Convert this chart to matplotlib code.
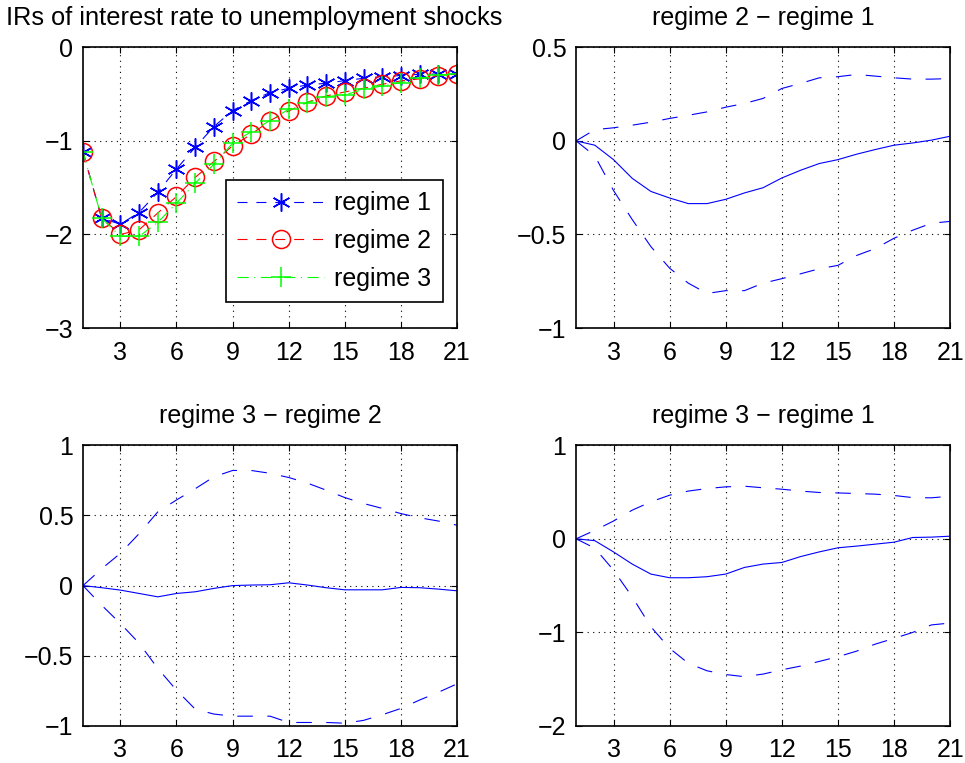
import numpy as np
import matplotlib
matplotlib.use("Agg")
import matplotlib.pyplot as plt

plt.rcParams['font.family'] = ['Liberation Sans', 'DejaVu Sans']

t = np.arange(1, 22)

# interest rate responses by regime
regime1 = [-1.12, -1.826, -1.89, -1.765, -1.548, -1.30, -1.068, -0.847, -0.676, -0.569, -0.484,
           -0.438, -0.402, -0.384, -0.356, -0.331, -0.313, -0.302, -0.288, -0.285, -0.288]
regime2 = [-1.12, -1.826, -2.00, -1.95, -1.77, -1.594, -1.39, -1.22, -1.053, -0.929, -0.783,
           -0.680, -0.587, -0.520, -0.477, -0.438, -0.395, -0.359, -0.338, -0.302, -0.288]
regime3 = [-1.12, -1.826, -2.02, -2.02, -1.87, -1.665, -1.452, -1.249, -1.025, -0.900, -0.783,
           -0.662, -0.591, -0.527, -0.509, -0.448, -0.413, -0.377, -0.331, -0.295, -0.288]

# regime 2 - regime 1: median, upper band, lower band
d21_mid = [0, -0.023, -0.10, -0.20, -0.27, -0.305, -0.335, -0.335, -0.312, -0.278, -0.25,
           -0.198, -0.157, -0.121, -0.10, -0.071, -0.046, -0.023, -0.011, 0.004, 0.025]
d21_up = [0, 0.06, 0.07, 0.084, 0.10, 0.12, 0.137, 0.155, 0.18, 0.20, 0.227,
          0.28, 0.307, 0.337, 0.343, 0.355, 0.346, 0.337, 0.33, 0.33, 0.333]
d21_lo = [0, -0.08, -0.265, -0.42, -0.565, -0.68, -0.76, -0.815, -0.80, -0.80, -0.76,
          -0.736, -0.71, -0.683, -0.665, -0.612, -0.575, -0.52, -0.477, -0.44, -0.43]

# regime 3 - regime 2
d32_mid = [0, -0.015, -0.032, -0.056, -0.08, -0.056, -0.044, -0.02, 0.0, 0.004, 0.006,
           0.02, 0.004, -0.015, -0.03, -0.03, -0.03, -0.013, -0.015, -0.025, -0.037]
d32_up = [0, 0.12, 0.23, 0.37, 0.525, 0.61, 0.69, 0.775, 0.82, 0.82, 0.80,
          0.77, 0.73, 0.68, 0.627, 0.585, 0.55, 0.513, 0.483, 0.46, 0.43]
d32_lo = [0, -0.14, -0.27, -0.41, -0.59, -0.745, -0.88, -0.915, -0.93, -0.93, -0.93,
          -0.975, -0.975, -0.975, -0.98, -0.96, -0.92, -0.875, -0.815, -0.76, -0.70]

# regime 3 - regime 1
d31_mid = [0, -0.02, -0.14, -0.27, -0.377, -0.416, -0.416, -0.405, -0.377, -0.306, -0.27,
           -0.253, -0.19, -0.14, -0.096, -0.078, -0.057, -0.036, 0.014, 0.018, 0.028]
d31_up = [0, 0.09, 0.19, 0.306, 0.395, 0.466, 0.51, 0.537, 0.555, 0.562, 0.545,
          0.53, 0.51, 0.495, 0.49, 0.484, 0.477, 0.463, 0.44, 0.438, 0.455]
d31_lo = [0, -0.10, -0.335, -0.62, -0.94, -1.17, -1.33, -1.41, -1.45, -1.473, -1.445,
          -1.40, -1.36, -1.31, -1.26, -1.20, -1.125, -1.064, -1.00, -0.92, -0.90]

xticks = [3, 6, 9, 12, 15, 18, 21]
fs = 18
lw = 0.8
dash = (0, (14, 13))


def style_axes(ax, ylim, yticks, ylabels):
    ax.set_xlim(1, 21)
    ax.set_ylim(*ylim)
    ax.set_xticks(xticks)
    ax.set_yticks(yticks)
    ax.set_yticklabels(ylabels)
    ax.tick_params(direction='in', top=True, right=True, labelsize=fs, length=4)
    ax.tick_params(axis='x', pad=9)
    ax.tick_params(axis='y', pad=7)
    ax.grid(True, linestyle=(0, (1, 4)), color='k', linewidth=0.8)
    for s in ax.spines.values():
        s.set_linewidth(1.2)


fig = plt.figure(figsize=(9.65, 7.63), dpi=100)
w, h = 0.3876, 0.368
ax1 = fig.add_axes([0.086, 0.570, w, h])
ax2 = fig.add_axes([0.597, 0.570, w, h])
ax3 = fig.add_axes([0.086, 0.0485, w, h])
ax4 = fig.add_axes([0.597, 0.0485, w, h])

ax1.plot(t, regime1, color='b', linestyle=(0, (9, 8)), marker=(6, 2, 0), markersize=13,
         markeredgewidth=1.1, linewidth=lw, label='regime 1')
ax1.plot(t, regime2, color='r', linestyle=(0, (9, 8)), marker='o', markersize=13,
         markerfacecolor='none', markeredgewidth=1.1, linewidth=lw, label='regime 2')
ax1.plot(t, regime3, color=(0, 1, 0), linestyle=(0, (10, 5, 1, 5)), marker='+', markersize=14,
         markeredgewidth=1.1, linewidth=lw, label='regime 3')
style_axes(ax1, (-3, 0), [-3, -2, -1, 0], ['\u22123', '\u22122', '\u22121', '0'])
ax1.set_title('IRs of interest rate to unemployment shocks', fontsize=18.3, pad=16, x=0.457)
leg = ax1.legend(loc='upper right', bbox_to_anchor=(0.962, 0.527), fontsize=fs,
                 fancybox=False, edgecolor='k', framealpha=1, handlelength=3.5,
                 borderpad=0.45, labelspacing=0.55, handletextpad=0.4, borderaxespad=0)
leg.get_frame().set_linewidth(1.2)

panels = [
    (ax2, d21_mid, d21_up, d21_lo, 'regime 2 \u2212 regime 1', (-1, 0.5),
     [-1, -0.5, 0, 0.5], ['\u22121', '\u22120.5', '0', '0.5']),
    (ax3, d32_mid, d32_up, d32_lo, 'regime 3 \u2212 regime 2', (-1, 1),
     [-1, -0.5, 0, 0.5, 1], ['\u22121', '\u22120.5', '0', '0.5', '1']),
    (ax4, d31_mid, d31_up, d31_lo, 'regime 3 \u2212 regime 1', (-2, 1),
     [-2, -1, 0, 1], ['\u22122', '\u22121', '0', '1']),
]
for ax, mid, up, lo, title, ylim, yt, yl in panels:
    ax.plot(t, mid, color='b', linewidth=lw)
    ax.plot(t, up, color='b', linestyle=dash, linewidth=lw)
    ax.plot(t, lo, color='b', linestyle=dash, linewidth=lw)
    style_axes(ax, ylim, yt, yl)
    ax.set_title(title, fontsize=fs, pad=16)

fig.savefig('out.png', dpi=100)
